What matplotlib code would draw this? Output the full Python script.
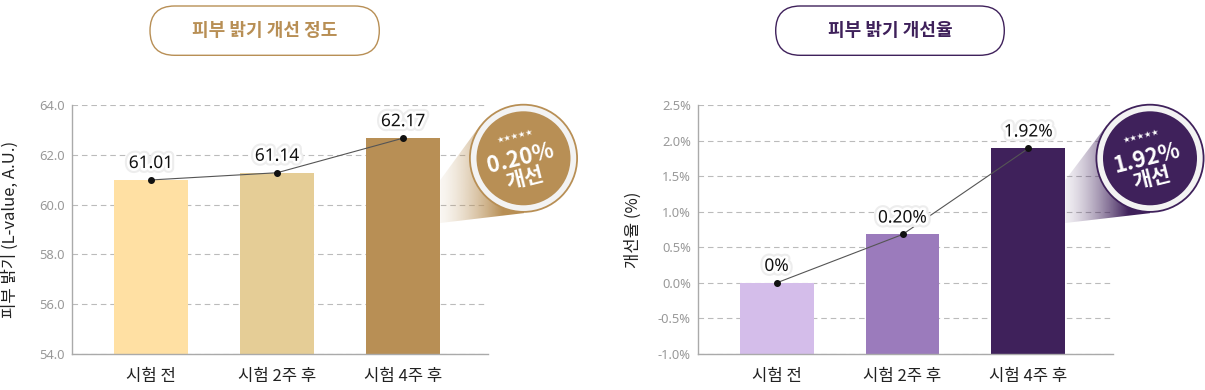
import numpy as np
import matplotlib
matplotlib.use('Agg')
from matplotlib import pyplot as plt
from matplotlib.patches import FancyBboxPatch, Circle, Polygon
import matplotlib.patheffects as pe

plt.rcParams['font.family'] = ['Noto Sans CJK KR', 'DejaVu Sans']

# ---- data ----
categories = ['시험 전', '시험 2주 후', '시험 4주 후']

brightness = [60.99, 61.28, 62.67]              # bar heights as drawn
brightness_labels = ['61.01', '61.14', '62.17']
brightness_ticks = [54.0, 56.0, 58.0, 60.0, 62.0, 64.0]

improve = [0.0, 0.68, 1.89]                      # bar heights as drawn (%)
improve_labels = ['0%', '0.20%', '1.92%']
improve_ticks = [-1.0, -0.5, 0.0, 0.5, 1.0, 1.5, 2.0, 2.5]

titles = ['피부 밝기 개선 정도', '피부 밝기 개선율']
ylabels = ['피부 밝기 (L-value, A.U.)', '개선율 (%)']
badge_values = ['0.20%', '1.92%']
badge_word = '개선'

gold = '#b88f55'
purple = '#3f215b'
colors_left = ['#ffe0a3', '#e5cd96', gold]
colors_right = ['#d4bdea', '#9b7bbc', purple]

W, H = 1205, 390
fig = plt.figure(figsize=(W / 100, H / 100), dpi=100)

ax1 = fig.add_axes([72 / W, 36 / H, 416 / W, 249 / H])
ax2 = fig.add_axes([697.7 / W, 36 / H, 415.3 / W, 249 / H])

x = np.arange(len(categories))
bw = 0.587


def style_axis(ax, ticks, ticklabels, ylabel, lab_x):
    ax.set_xlim(-0.627, 2.672)
    ax.set_ylim(ticks[0], ticks[-1])
    ax.set_yticks(ticks)
    ax.set_yticklabels(ticklabels, color='#999999', fontsize=9.3, family=['Noto Sans', 'DejaVu Sans'])
    ax.set_xticks(x)
    ax.set_xticklabels(categories, fontsize=12, color='#222222')
    ax.tick_params(axis='both', length=0)
    ax.tick_params(axis='y', pad=5)
    ax.tick_params(axis='x', pad=10)
    for s in ['top', 'right']:
        ax.spines[s].set_visible(False)
    for s in ['left', 'bottom']:
        ax.spines[s].set_color('#aaaaaa')
        ax.spines[s].set_linewidth(1)
    ax.yaxis.grid(True, color='#bbbbbb', linestyle=(0, (5, 3.5)), linewidth=0.8)
    ax.set_axisbelow(True)
    ax.set_ylabel(ylabel, fontsize=12, color='#222222')
    ax.yaxis.set_label_coords(lab_x, 0.5)


def draw_series(ax, vals, labels, cols, base):
    heights = [v - base for v in vals]
    ax.bar(x, heights, bottom=base, width=bw, color=cols, zorder=2)
    ax.plot(x, vals, color='#555555', lw=0.8, zorder=3)
    ax.plot(x, vals, 'o', color='#111111', ms=4, zorder=4)
    for xi, v, lbl in zip(x, vals, labels):
        ax.annotate(lbl, (xi, v), xytext=(0, 12.2), textcoords='offset points',
                    ha='center', va='center', fontsize=12.5, color='#111111',
                    family=['Noto Sans', 'DejaVu Sans'], zorder=5,
                    path_effects=[pe.Stroke(linewidth=7, foreground='#ededed'),
                                  pe.Stroke(linewidth=4, foreground='white'),
                                  pe.Normal()])


draw_series(ax1, brightness, brightness_labels, colors_left, brightness_ticks[0])
style_axis(ax1, brightness_ticks, ['%.1f' % t for t in brightness_ticks], ylabels[0], -0.128)

draw_series(ax2, improve, improve_labels, colors_right, improve_ticks[0])
style_axis(ax2, improve_ticks, ['%.1f%%' % t for t in improve_ticks], ylabels[1], -0.135)

# ---- overlay for titles and badges (pixel coords, y up) ----
ov = fig.add_axes([0, 0, 1, 1], zorder=10)
ov.set_xlim(0, W)
ov.set_ylim(0, H)
ov.axis('off')
ov.patch.set_alpha(0)

# title pills
for (x0, x1), title, col in zip([(150, 379.3), (775.7, 1004.3)], titles, [gold, purple]):
    y0, y1 = H - 55.3, H - 6
    pill = FancyBboxPatch((x0, y0), x1 - x0, y1 - y0,
                          boxstyle='round,pad=0,rounding_size=24.6',
                          fc='white', ec=col, lw=1.0)
    ov.add_patch(pill)
    ov.text((x0 + x1) / 2, H - 31, title, ha='center', va='center',
            fontsize=13, fontweight='bold', color=col)


def tangent_point(ax_pt, c, r, upper):
    a = np.array(ax_pt, float)
    c = np.array(c, float)
    d = np.linalg.norm(a - c)
    phi = np.arctan2(a[1] - c[1], a[0] - c[0])
    off = np.arccos(r / d)
    cands = [c + r * np.array([np.cos(phi + s * off), np.sin(phi + s * off)]) for s in (1, -1)]
    cands.sort(key=lambda p: p[1])
    return cands[1] if upper else cands[0]


def badge(ax, col, cx, cy_img, value):
    r = 54.5
    cy = H - cy_img
    # right edge of last bar in pixels
    bx, _ = ax.transData.transform((x[-1] + bw / 2, 0))
    a_top = (bx, H - 180)
    a_bot = (bx, H - 223)
    t_top = tangent_point(a_top, (cx, cy), r, True)
    t_bot = tangent_point(a_bot, (cx, cy), r, False)
    pts = [a_top, tuple(t_top), (cx, cy), tuple(t_bot), a_bot]
    poly = Polygon(pts, closed=True, fc='none', ec='none', transform=ov.transData)
    ov.add_patch(poly)
    # gradient
    nx, ny = 200, 20
    t = np.clip(np.linspace(0, 1, nx) / 0.75, 0, 1)
    alpha = 0.08 + 0.92 * t ** 1.4
    rgb = np.array(matplotlib.colors.to_rgb(col))
    img = np.zeros((ny, nx, 4))
    img[..., :3] = rgb
    img[..., 3] = alpha[None, :]
    ys = [p[1] for p in pts]
    im = ov.imshow(img, extent=[bx, cx, min(ys), max(ys)], origin='lower',
                   aspect='auto', interpolation='bilinear', zorder=1)
    im.set_clip_path(poly)
    # circles
    ov.add_patch(Circle((cx, cy), r, fc=col, ec='none', zorder=2))
    ov.add_patch(Circle((cx, cy), r - 1.8, fc='#f3f3f3', ec='none', zorder=3))
    ov.add_patch(Circle((cx, cy), r - 7.5, fc=col, ec='none', zorder=4))
    rot = 14
    th = np.deg2rad(rot)
    down = np.array([np.sin(th), -np.cos(th)])
    base = np.array([cx - 3, cy])
    for d, txt, fs, fam in [(-23, '★★★★★', 6, ['DejaVu Sans']),
                            (0, value, 16, ['Noto Sans CJK KR', 'DejaVu Sans']),
                            (20, badge_word, 15, ['Noto Sans CJK KR', 'DejaVu Sans'])]:
        p = base + d * down
        ov.text(p[0], p[1], txt, ha='center', va='center', rotation=rot,
                rotation_mode='anchor', fontsize=fs, fontweight='bold',
                color='white', family=fam, zorder=5)


badge(ax1, gold, 523.5, 158.3, badge_values[0])
badge(ax2, purple, 1150, 158.3, badge_values[1])

ov.set_xlim(0, W)
ov.set_ylim(0, H)

fig.savefig('out.png', dpi=100)
